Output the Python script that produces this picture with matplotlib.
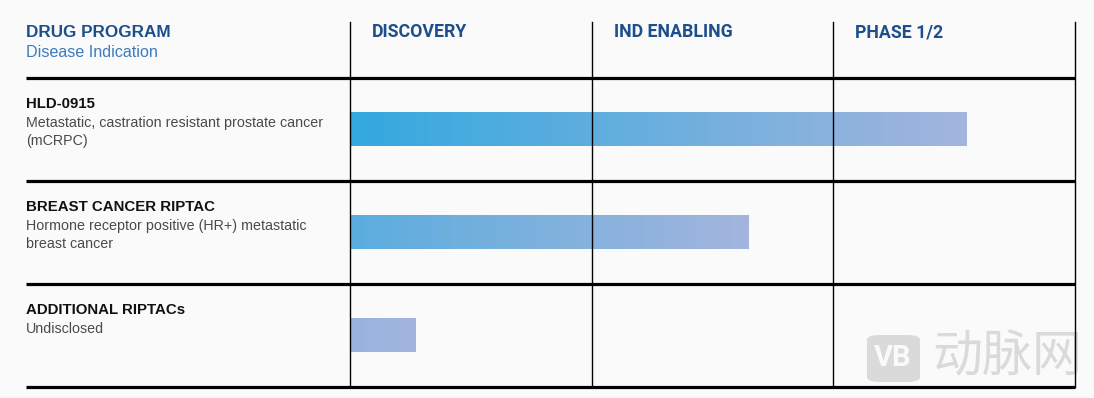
import numpy as np
import matplotlib
matplotlib.use("Agg")
import matplotlib.pyplot as plt
from matplotlib.colors import to_rgb
from matplotlib.patches import FancyBboxPatch

# ---- data ----
stages = ["DISCOVERY", "IND ENABLING", "PHASE 1/2"]
programs = ["HLD-0915", "BREAST CANCER RIPTAC", "ADDITIONAL RIPTACs"]
indications = [
    "Metastatic, castration resistant prostate cancer\n(mCRPC)",
    "Hormone receptor positive (HR+) metastatic\nbreast cancer",
    "Undisclosed",
]
progress = [2.55, 1.65, 0.27]   # in stage units (0..3)

# ---- style ----
BG = "#fafafa"
HEAD = "#1d4f8c"
SUB = "#3d7bbd"
GRAD_START = "#33a9df"
GRAD_END = "#a3b5dd"

W, H = 1094, 398
fig = plt.figure(figsize=(W / 100, H / 100), dpi=100, facecolor=BG)
ax = fig.add_axes([0, 0, 1, 1])
ax.set_facecolor(BG)
col_px = 241.67
XLIM = (-350 / col_px, (W - 350) / col_px)
YLIM = ((H - 78) / 103, -78 / 103)
ax.axis("off")

left_x = (26 - 350) / col_px
nrows = len(programs)
nst = len(stages)

# watermark (behind grid)
wm = "#dadada"
box = FancyBboxPatch((867 / W, 16 / H), 53 / W, 47 / H, transform=fig.transFigure,
                     boxstyle="round,pad=0,rounding_size=0.012", facecolor=wm,
                     edgecolor="none", zorder=0)
fig.patches.append(box)
fig.text(893 / W, 40 / H, "VB", color=BG, fontsize=21, fontweight="bold",
         family=["Roboto", "DejaVu Sans"], ha="center", va="center", zorder=0)
fig.text(932 / W, 41 / H, "动脉网", color=wm, fontsize=36,
         family=["Noto Sans CJK SC", "DejaVu Sans"], ha="left", va="center", zorder=0)
ax.patch.set_visible(False)
ax.set_zorder(1)

# grid lines
for i in range(nrows + 1):
    ax.plot([left_x, nst], [i, i], color="black", lw=2.3, solid_capstyle="butt", zorder=3)
for j in range(nst + 1):
    ax.plot([j, j], [-0.544, nrows], color="black", lw=1.0, zorder=3)

# headers
ax.text(left_x, -0.398, "DRUG PROGRAM", color=HEAD, fontsize=12.3, fontweight="bold",
        family=["Liberation Sans", "DejaVu Sans"], va="baseline", ha="left")
ax.text(left_x, -0.204, "Disease Indication", color=SUB, fontsize=11.6,
        family=["Liberation Sans", "DejaVu Sans"], va="baseline", ha="left")
for j, s in enumerate(stages):
    ax.text(j + 0.091, -0.398, s, color=HEAD, fontsize=12.8, fontweight="bold",
            family=["Roboto", "DejaVu Sans"], va="baseline", ha="left")

# rows
c0 = np.array(to_rgb(GRAD_START))
c1 = np.array(to_rgb(GRAD_END))
Lmax = max(progress)
bar_h = 0.33
for i, (p, ind, val) in enumerate(zip(programs, indications, progress)):
    ax.text(left_x, i + 0.291, p, color="#111111", fontsize=10.8, fontweight="bold",
            family=["Liberation Sans", "DejaVu Sans"], va="baseline", ha="left")
    for k, line in enumerate(ind.split("\n")):
        ax.text(left_x, i + 0.476 + 0.175 * k, line, color="#4a4a4a", fontsize=10.3,
                family=["Liberation Sans", "DejaVu Sans"], va="baseline", ha="left")
    xs = np.linspace(0, val, 300)
    t = (val - xs) / Lmax
    cols = c1[None, :] + t[:, None] * (c0 - c1)[None, :]
    img = cols[None, :, :]
    yc = i + 0.5
    ax.imshow(img, extent=[0, val, yc + bar_h / 2, yc - bar_h / 2], aspect="auto",
              interpolation="bilinear", zorder=2)

ax.set_xlim(*XLIM)
ax.set_ylim(*YLIM)

fig.savefig("out.png", dpi=100, facecolor=BG)
